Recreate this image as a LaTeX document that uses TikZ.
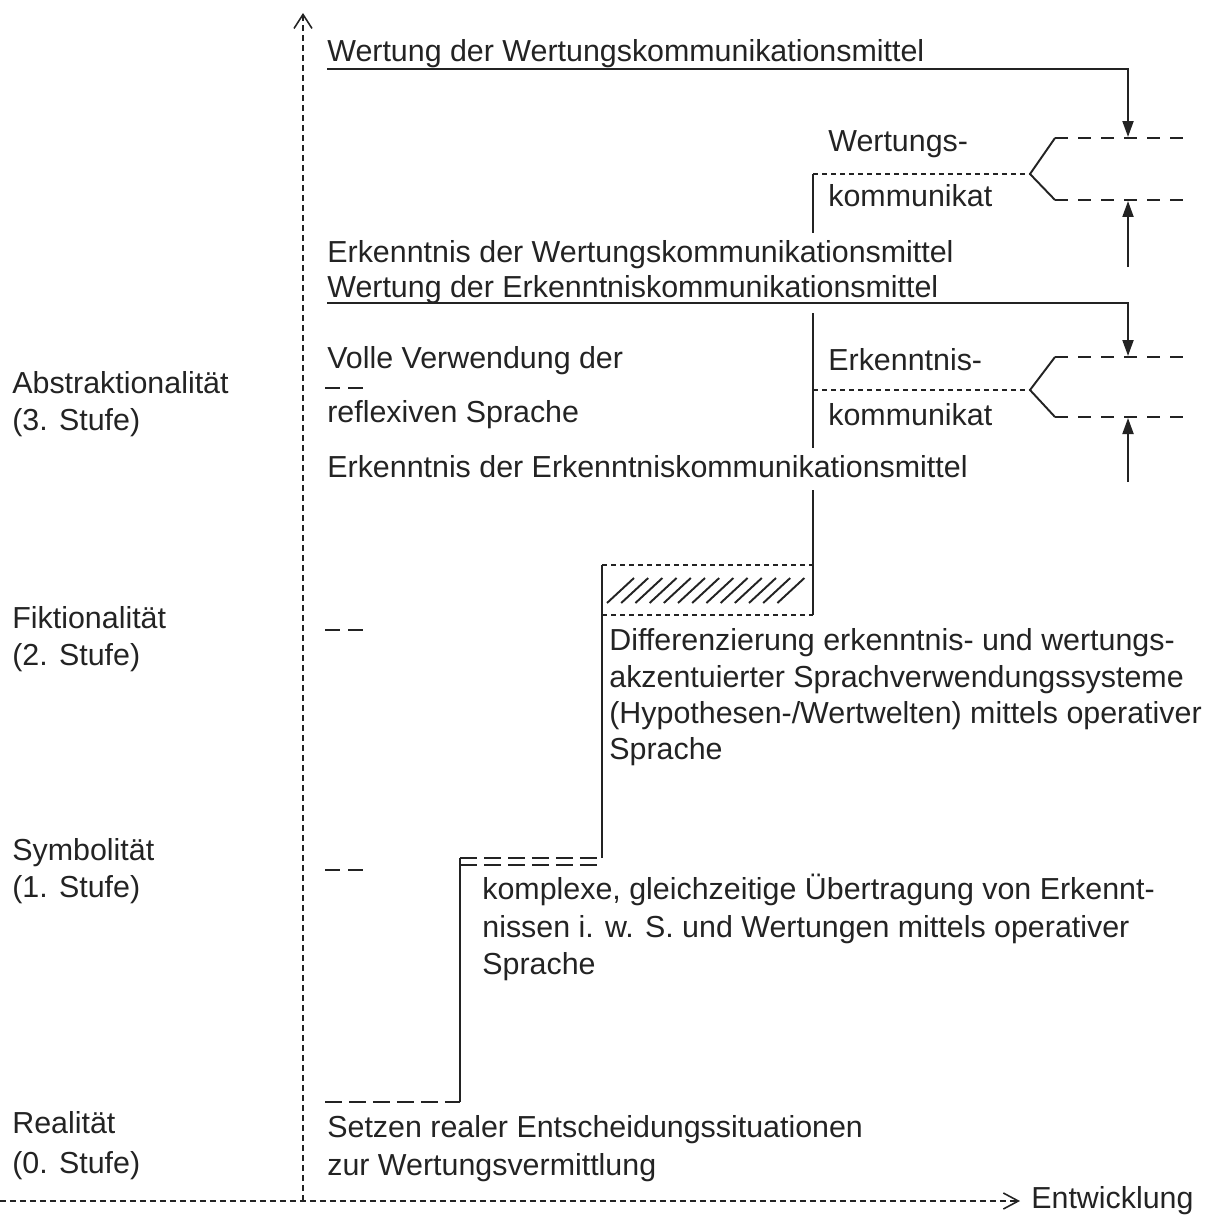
\documentclass[tikz,border=0pt]{standalone}
\usepackage{fontspec}
\setmainfont{Liberation Sans}
\usetikzlibrary{arrows.meta}
\definecolor{ink}{RGB}{35,35,35}

\begin{document}
\begin{tikzpicture}[x=0.02cm,y=-0.02cm,
	txt/.style={anchor=base west,inner sep=0pt,text=ink,font=\fontsize{17.3}{21}\selectfont},
	strich/.style={draw=ink,line width=1.1pt},
	achse/.style={draw=ink,line width=0.9pt,dash pattern=on 1.2mm off 0.8mm},
	punkt/.style={draw=ink,line width=0.9pt,dash pattern=on 1mm off 0.8mm},
	strichel/.style={draw=ink,line width=1.1pt,dash pattern=on 2.6mm off 2mm},
	marke/.style={draw=ink,line width=1.1pt,dash pattern=on 3mm off 1.6mm},
	lang/.style={draw=ink,line width=1.1pt,dash pattern=on 3.4mm off 1.4mm},
	pfeil/.style={strich,-{Triangle[length=3.2mm,width=2.2mm]}}
	]
	\useasboundingbox (0,0) rectangle (1222,1216);
	% Achsen
	\coordinate (ursprung) at (303,1201);
	\coordinate (oben) at (303,13);
	\coordinate (rechts) at (1020,1201);
	\coordinate (links) at (0,1201);
	\draw[achse,-{Straight Barb[length=2.8mm,width=3.6mm]}] (ursprung) -- (oben);
	\draw[achse,-{Straight Barb[length=3mm,width=3.2mm]}] (links) -- (rechts);
	\node[txt] (entw) at (1031,1208) {Entwicklung};

	% Stufen links
	\node[txt] (abs1) at (12,393) {Abstraktionalität};
	\node[txt] (abs2) at (12,430) {(3. Stufe)};
	\node[txt] (fik1) at (12,628) {Fiktionalität};
	\node[txt] (fik2) at (12,665) {(2. Stufe)};
	\node[txt] (sym1) at (12,860) {Symbolität};
	\node[txt] (sym2) at (12,897) {(1. Stufe)};
	\node[txt] (real1) at (12,1133) {Realität};
	\node[txt] (real2) at (12,1173) {(0. Stufe)};

	% Texte oben
	\node[txt] (ww) at (327,62) {Wertung der Wertungskommunikationsmittel};
	\node[txt] (wk1) at (828,152) {Wertungs-};
	\node[txt] (wk2) at (828,207) {kommunikat};
	\node[txt] (ewk) at (327,262) {Erkenntnis der Wertungskommunikationsmittel};
	\node[txt] (wek) at (327,297) {Wertung der Erkenntniskommunikationsmittel};
	\node[txt] (vv1) at (327,368) {Volle Verwendung der};
	\node[txt] (vv2) at (327,422) {reflexiven Sprache};
	\node[txt] (ek1) at (828,370) {Erkenntnis-};
	\node[txt] (ek2) at (828,425) {kommunikat};
	\node[txt] (eek) at (327,477) {Erkenntnis der Erkenntniskommunikationsmittel};

	% Texte unten
	\node[txt] (diff1) at (609,650) {Differenzierung erkenntnis- und wertungs-};
	\node[txt] (diff2) at (609,687) {akzentuierter Sprachverwendungssysteme};
	\node[txt] (diff3) at (609,723) {(Hypothesen-/Wertwelten) mittels operativer};
	\node[txt] (diff4) at (609,759) {Sprache};
	\node[txt] (kom1) at (482,899) {komplexe, gleichzeitige Übertragung von Erkennt-};
	\node[txt] (kom2) at (482,937) {nissen i. w. S. und Wertungen mittels operativer};
	\node[txt] (kom3) at (482,974) {Sprache};
	\node[txt] (setz1) at (327,1137) {Setzen realer Entscheidungssituationen};
	\node[txt] (setz2) at (327,1175) {zur Wertungsvermittlung};

	% Wertungskommunikat
	\coordinate (w0) at (813,174);
	\coordinate (wk) at (1030,174);
	\coordinate (wo) at (1055,138);
	\coordinate (wu) at (1055,200);
	\draw[strich] (813,233) -- (w0);
	\draw[punkt] (w0) -- (wk);
	\draw[strich] (wo) -- (wk) -- (wu);
	\draw[strichel] (wo) -- (1190,138);
	\draw[strichel] (wu) -- (1190,200);
	\draw[pfeil] (327,69) -| (1128,137);
	\draw[pfeil] (1128,267) -- (1128,201);

	% Erkenntniskommunikat
	\coordinate (e0) at (813,390);
	\coordinate (ek) at (1030,390);
	\coordinate (eo) at (1055,357);
	\coordinate (eu) at (1055,417);
	\draw[strich] (813,313) -- (813,448);
	\draw[punkt] (e0) -- (ek);
	\draw[strich] (eo) -- (ek) -- (eu);
	\draw[strichel] (eo) -- (1190,357);
	\draw[strichel] (eu) -- (1190,417);
	\draw[pfeil] (327,303) -| (1128,356);
	\draw[pfeil] (1128,482) -- (1128,418);

	% Marken an der Achse
	\draw[marke] (325,388) -- (363,388);
	\draw[marke] (325,630) -- (363,630);
	\draw[marke] (325,870) -- (363,870);

	% Treppe
	\draw[lang] (325,1102) -- (460,1102);
	\draw[strich] (460,1102) -- (460,858);
	\draw[lang] (460,858) -- (602,858);
	\draw[lang] (460,865) -- (602,865);
	\draw[strich] (602,858) -- (602,565);
	\draw[punkt] (602,565) -- (813,565);
	\draw[punkt] (602,615) -- (813,615);
	\draw[strich] (813,615) -- (813,490);
	\foreach \i in {0,...,12}
		\draw[strich] ({607+14.2*\i},603) -- ({634+14.2*\i},578);
\end{tikzpicture}
\end{document}
